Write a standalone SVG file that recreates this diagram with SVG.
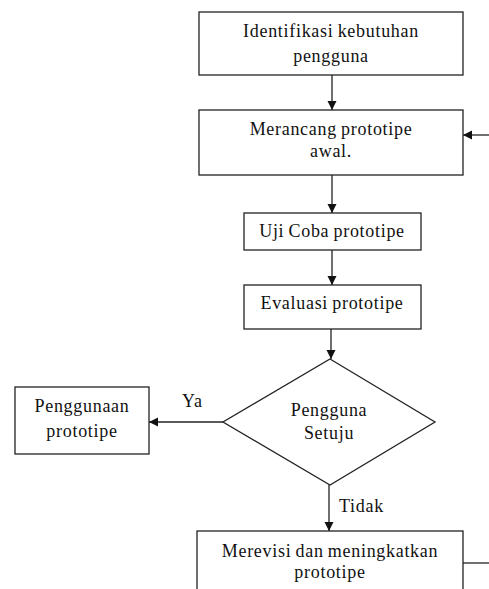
<svg xmlns="http://www.w3.org/2000/svg" width="489" height="589" viewBox="0 0 489 589">
<style>
.box{fill:#fff;stroke:#222;stroke-width:1.3}
.t{font-family:"Liberation Serif","Times New Roman",serif;font-size:18px;letter-spacing:0.7px;word-spacing:-1px;fill:#111;text-anchor:middle}
.l{font-family:"Liberation Serif","Times New Roman",serif;font-size:18px;letter-spacing:0.7px;fill:#111}
.c{stroke:#222;stroke-width:1.3;fill:none}
</style>
<defs>
<marker id="ah" markerWidth="10" markerHeight="10" refX="9" refY="5" orient="auto" markerUnits="userSpaceOnUse">
<path d="M0,0.5 L9,5 L0,9.5 Z" fill="#111"/>
</marker>
</defs>
<rect width="489" height="589" fill="#fff"/>
<g id="connectors">
<line class="c" x1="332" y1="75" x2="332" y2="110" marker-end="url(#ah)"/>
<line class="c" x1="489" y1="135" x2="463" y2="135" marker-end="url(#ah)"/>
<line class="c" x1="332" y1="175" x2="332" y2="213" marker-end="url(#ah)"/>
<line class="c" x1="332" y1="250" x2="332" y2="285" marker-end="url(#ah)"/>
<line class="c" x1="331" y1="329" x2="331" y2="359" marker-end="url(#ah)"/>
<line class="c" x1="223" y1="422" x2="149" y2="422" marker-end="url(#ah)"/>
<line class="c" x1="329" y1="485" x2="329" y2="531" marker-end="url(#ah)"/>
<line class="c" x1="463" y1="563" x2="489" y2="563"/>
<text class="l" x="182" y="407">Ya</text>
<text class="l" x="339" y="512">Tidak</text>
</g>
<g id="n1">
<rect class="box" x="199" y="12" width="264" height="63"/>
<text class="t" x="331" y="37">Identifikasi kebutuhan</text>
<text class="t" x="331" y="62">pengguna</text>
</g>
<g id="n2">
<rect class="box" x="199" y="110" width="264" height="65"/>
<text class="t" x="331" y="135">Merancang prototipe</text>
<text class="t" x="331" y="157">awal.</text>
</g>
<g id="n3">
<rect class="box" x="244" y="213" width="177" height="37"/>
<text class="t" x="332" y="237">Uji Coba prototipe</text>
</g>
<g id="n4">
<rect class="box" x="244" y="285" width="177" height="44"/>
<text class="t" x="332" y="309">Evaluasi prototipe</text>
</g>
<g id="n5">
<polygon class="box" points="330,359 435,422 330,485 223,422"/>
<text class="t" x="329" y="416">Pengguna</text>
<text class="t" x="329" y="439">Setuju</text>
</g>
<g id="n6">
<rect class="box" x="15" y="387" width="134" height="67"/>
<text class="t" x="82" y="412">Penggunaan</text>
<text class="t" x="82" y="437">prototipe</text>
</g>
<g id="n7">
<rect class="box" x="197" y="531" width="266" height="70"/>
<text class="t" x="330" y="557">Merevisi dan meningkatkan</text>
<text class="t" x="330" y="578">prototipe</text>
</g>
</svg>
